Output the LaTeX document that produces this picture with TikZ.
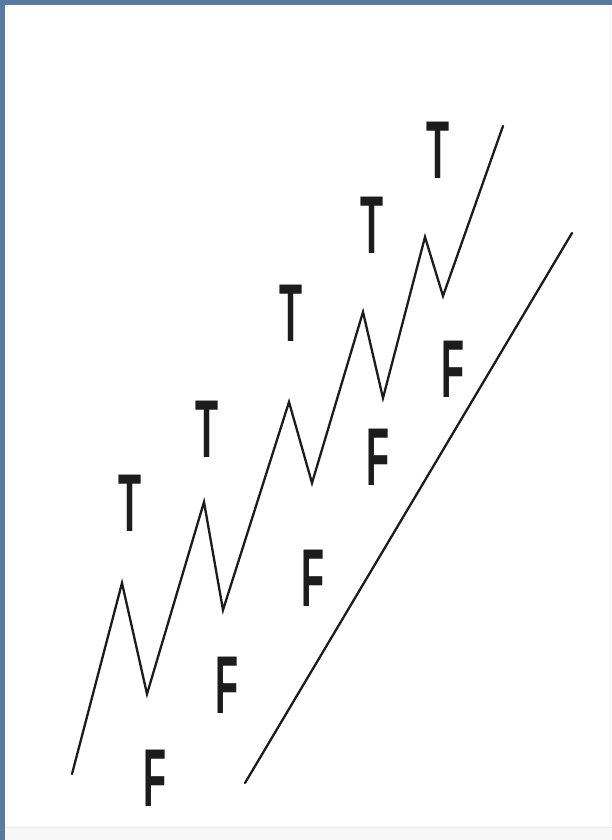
\documentclass[tikz,border=0pt]{standalone}
\usepackage{fontspec}
\setmainfont{Liberation Sans}
\definecolor{frameblue}{RGB}{88,121,161}
\definecolor{ink}{RGB}{28,28,28}
\begin{document}
\begin{tikzpicture}[x=1pt,y=-1pt,
  wave/.style={draw=ink,line width=2.3pt,line join=miter,line cap=round},
  lab/.style={inner sep=0pt,font=\fontsize{82}{82}\selectfont\bfseries,xscale=0.46,text=ink}]
\useasboundingbox (0,0) rectangle (612,840);
\fill[white] (0,0) rectangle (612,840);
\fill[frameblue] (0,0) rectangle (612,5);
\fill[frameblue] (0,0) rectangle (5,840);
\fill[black!3] (5,828) rectangle (612,840);
\draw[black!8,line width=0.8pt] (5,827.5) -- (612,827.5);
\draw[black!4,line width=0.8pt] (610.5,5) -- (610.5,827);
% zigzag points
\coordinate (s) at (72,774);
\coordinate (p1) at (122,583);
\coordinate (v1) at (147,694);
\coordinate (p2) at (204,502);
\coordinate (v2) at (223,610);
\coordinate (p3) at (289,402);
\coordinate (v3) at (312,483);
\coordinate (p4) at (363,312);
\coordinate (v4) at (383,398);
\coordinate (p5) at (425,237);
\coordinate (v5) at (443,296);
\coordinate (e) at (503,126);
\draw[wave] (s) -- (p1) -- (v1) -- (p2) -- (v2) -- (p3) -- (v3) -- (p4) -- (v4) -- (p5) -- (v5) -- (e);
% trend line
\coordinate (r1) at (245,783);
\coordinate (r2) at (572,233);
\draw[wave] (r1) -- (r2);
% labels
\node[lab] (t1) at (130,503.5) {T};
\node[lab] (t2) at (207,429) {T};
\node[lab] (t3) at (291,313.5) {T};
\node[lab] (t4) at (372,225) {T};
\node[lab] (t5) at (438,150.5) {T};
\node[lab] (f1) at (155,778) {F};
\node[lab] (f2) at (227,685) {F};
\node[lab] (f3) at (313,578) {F};
\node[lab] (f4) at (378,457.5) {F};
\node[lab] (f5) at (453,369) {F};
\end{tikzpicture}
\end{document}
